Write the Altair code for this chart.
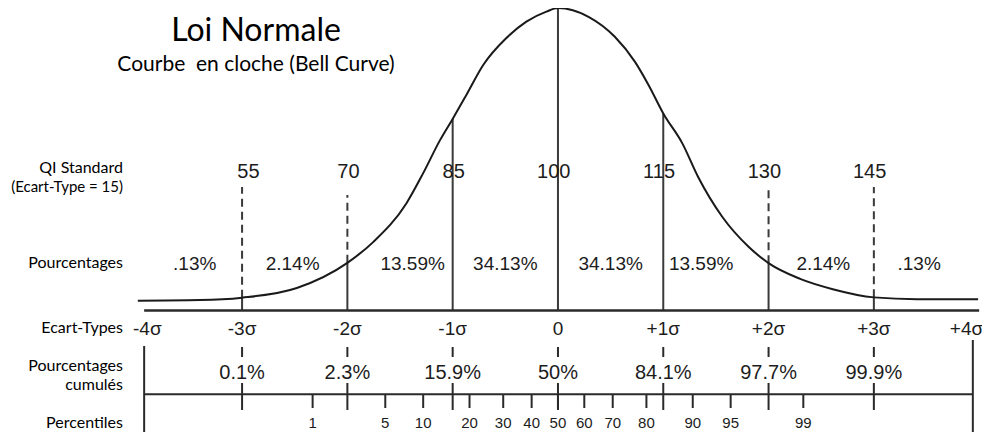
import altair as alt
import pandas as pd

# ---------------- data ----------------
# bell curve, x in standard deviations, height in % of the peak
curve_sigma = [-3.99, -3.4, -3.0, -2.48, -2.0, -1.75, -1.44, -1.28, -1.12, -1.0,
               -0.87, -0.71, -0.49, -0.3, -0.11, 0.0, 0.29, 0.54, 0.73, 0.86,
               1.0, 1.18, 1.33, 1.56, 1.81, 2.0, 2.3, 2.61, 3.0, 3.41, 3.99]
curve_height = [3.4, 3.6, 4.4, 7.6, 15.9, 22.9, 35.5, 45.5, 56.4, 63.4,
                71.3, 81.2, 90.1, 95.5, 98.8, 100.0, 97.1, 90.5, 82.3, 74.6,
                65.2, 55.4, 44.3, 31.1, 21.2, 15.8, 10.6, 7.2, 4.5, 3.9, 3.9]

sigmas = [-3, -2, -1, 0, 1, 2, 3]
curve_at_sigma = [4.4, 15.9, 63.4, 100.0, 65.2, 15.8, 4.5]
qi_values = ["55", "70", "85", "100", "115", "130", "145"]
qi_label_pos = [-2.94, -1.99, -0.99, -0.04, 0.96, 1.96, 2.96]
cum_pct = ["0.1%", "2.3%", "15.9%", "50%", "84.1%", "97.7%", "99.9%"]

band_center = [-3.45, -2.52, -1.38, -0.5, 0.5, 1.36, 2.52, 3.43]
band_pct = [".13%", "2.14%", "13.59%", "34.13%", "34.13%", "13.59%", "2.14%", ".13%"]

sigma_labels = ["-4σ", "-3σ", "-2σ", "-1σ", "0", "+1σ", "+2σ", "+3σ", "+4σ"]
sigma_label_pos = [-3.9, -3, -2, -1, 0, 1, 2, 3, 3.88]

percentiles = ["1", "5", "10", "20", "30", "40", "50", "60", "70", "80", "90", "95", "99"]
percentile_z = [-2.33, -1.64, -1.28, -0.84, -0.52, -0.25, 0.0, 0.25, 0.52, 0.84, 1.28, 1.64, 2.33]

dashed_sigmas_a = [-3, 2, 3]
dashed_sigmas_b = [-2]
axis_left, axis_right, upper_axis_right = -3.93, 3.94, 4.0

title = "Loi Normale"
subtitle = "Courbe\u00a0 en cloche (Bell Curve)"
row_labels = ["QI Standard", "(Ecart-Type = 15)", "Pourcentages", "Ecart-Types",
              "Pourcentages", "cumulés", "Percentiles"]

# ---------------- tables ----------------
df_curve = pd.DataFrame({"x": curve_sigma, "h": curve_height})
df_sig = pd.DataFrame({"x": sigmas, "h": curve_at_sigma, "qi": qi_values, "cum": cum_pct})
df_qi = pd.DataFrame({"x": qi_label_pos, "t": qi_values})
df_dash_a = df_sig[df_sig["x"].isin(dashed_sigmas_a)]
df_dash_b = df_sig[df_sig["x"].isin(dashed_sigmas_b)]
df_band = pd.DataFrame({"x": band_center, "t": band_pct})
df_slab = pd.DataFrame({"x": sigma_label_pos, "t": sigma_labels})
df_pct = pd.DataFrame({"x": percentile_z, "t": percentiles})
df_ends = pd.DataFrame({"x": [axis_left, axis_right]})
df_axis1 = pd.DataFrame({"x": [axis_left], "x2": [upper_axis_right]})
df_axis2 = pd.DataFrame({"x": [axis_left], "x2": [axis_right]})

# ---------------- styling ----------------
W, H = 974, 426
xs = alt.Scale(domain=[-5.223, 4.027], nice=False, zero=False)
ys = alt.Scale(domain=[-40.59, 100], nice=False, zero=False)
LINE = "#3a3a3a"
TXT = "#1c1c1c"
NUM_FONT = "Liberation Sans"
LAB_FONT = "Lato"


def X(f="x"):
    return alt.X(f"{f}:Q", scale=xs, axis=None)


def Y(f="h"):
    return alt.Y(f"{f}:Q", scale=ys, axis=None)


curve = alt.Chart(df_curve).mark_line(
    interpolate="monotone", color="#1a1a1a", strokeWidth=2
).encode(x=X(), y=Y())

solid = alt.Chart(df_sig).mark_rule(color=LINE, strokeWidth=2).encode(
    x=X(), y=Y(), y2=alt.value(303)
)

dash_a = alt.Chart(df_dash_a).mark_rule(
    color=LINE, strokeWidth=2, strokeDash=[8, 5]
).encode(x=X(), y=Y(), y2=alt.value(179))

dash_b = alt.Chart(df_dash_b).mark_rule(
    color=LINE, strokeWidth=2, strokeDash=[8, 5]
).encode(x=X(), y=Y(), y2=alt.value(187))

axis1 = alt.Chart(df_axis1).mark_rule(color="#2a2a2a", strokeWidth=2.5).encode(
    x=X(), x2="x2:Q", y=alt.value(302.5)
)
axis2 = alt.Chart(df_axis2).mark_rule(color="#2a2a2a", strokeWidth=2).encode(
    x=X(), x2="x2:Q", y=alt.value(386.3)
)

end_left = alt.Chart(df_ends.iloc[[0]]).mark_rule(color="#2a2a2a", strokeWidth=2).encode(
    x=X(), y=alt.value(338), y2=alt.value(424)
)
end_right = alt.Chart(df_ends.iloc[[1]]).mark_rule(color="#2a2a2a", strokeWidth=2).encode(
    x=X(), y=alt.value(332), y2=alt.value(424)
)

sig_tick_top = alt.Chart(df_sig).mark_rule(color="#2a2a2a", strokeWidth=2).encode(
    x=X(), y=alt.value(339), y2=alt.value(349)
)
sig_tick_low = alt.Chart(df_sig).mark_rule(color="#2a2a2a", strokeWidth=2).encode(
    x=X(), y=alt.value(375), y2=alt.value(402)
)
pct_ticks = alt.Chart(df_pct).mark_rule(color="#2a2a2a", strokeWidth=2).encode(
    x=X(), y=alt.value(386), y2=alt.value(400)
)


def num_text(df, field, y, size):
    return alt.Chart(df).mark_text(
        font=NUM_FONT, fontSize=size, color=TXT, baseline="middle", align="center"
    ).encode(x=X(), y=alt.value(y), text=f"{field}:N")


qi_text = num_text(df_qi, "t", 164, 20)
band_text = num_text(df_band, "t", 256, 19)
sig_text = num_text(df_slab, "t", 320.5, 19)
cum_text = num_text(df_sig, "cum", 365, 20)
pct_text = num_text(df_pct, "t", 415, 15)

row_y = [160, 179, 254.5, 320, 358, 377, 415]
row_size = [16, 15, 16, 16, 16, 16, 16]
row_layers = []
for t, yy, sz in zip(row_labels, row_y, row_size):
    row_layers.append(
        alt.Chart(pd.DataFrame({"t": [t]})).mark_text(
            font=LAB_FONT, fontSize=sz, color="#000000", align="right", baseline="middle"
        ).encode(x=alt.value(115), y=alt.value(yy), text="t:N")
    )

title_layer = alt.Chart(pd.DataFrame({"t": [title]})).mark_text(
    font=LAB_FONT, fontSize=32, color="#000000", align="center", baseline="alphabetic"
).encode(x=alt.value(248), y=alt.value(33), text="t:N")

subtitle_layer = alt.Chart(pd.DataFrame({"t": [subtitle]})).mark_text(
    font=LAB_FONT, fontSize=21, color="#000000", align="center", baseline="alphabetic"
).encode(x=alt.value(248), y=alt.value(62.5), text="t:N")

chart = alt.layer(
    solid, dash_a, dash_b, curve, axis1, axis2, end_left, end_right,
    sig_tick_top, sig_tick_low, pct_ticks,
    qi_text, band_text, sig_text, cum_text, pct_text,
    *row_layers, title_layer, subtitle_layer,
).properties(
    width=W, height=H, padding=0, autosize=alt.AutoSizeParams(type="none"),
    background="white",
).configure_view(stroke=None)

chart.save("out.html", embed_options={"renderer": "svg", "actions": False})
